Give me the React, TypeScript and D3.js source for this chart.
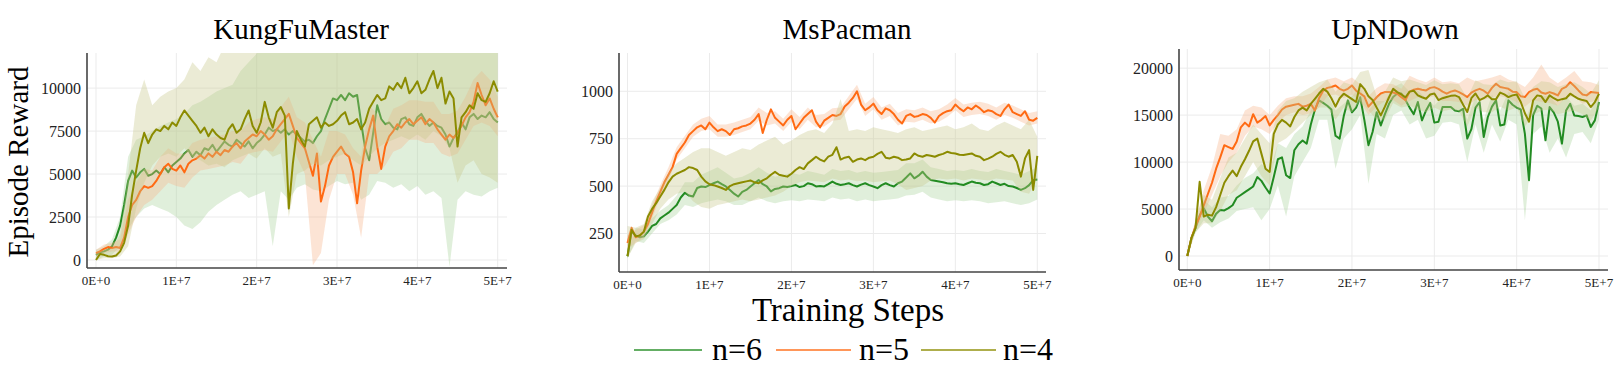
import React from 'react';
import * as d3 from 'd3';

// ---------- shared ----------
const SERIES_NAMES = ['n=6', 'n=5', 'n=4'];
const LINE_COLORS = ['#228b22', '#ff6a13', '#8b8b00'];
const BAND_COLORS = ['#a8d49a', '#f8b48a', '#c8c88a'];
const X_TICKS = [0, 1e7, 2e7, 3e7, 4e7, 5e7];
const X_TICK_LABELS = ['0E+0', '1E+7', '2E+7', '3E+7', '4E+7', '5E+7'];
const LINE_STEPS = d3.range(101).map((i) => i * 5e5);
const BAND_STEPS = d3.range(51).map((i) => i * 1e6);

// ---------- KungFuMaster ----------
const KFM_Y_TICKS = [0, 2500, 5000, 7500, 10000];
const KFM_N6 = [300,450,500,600,800,1300,2000,3200,4600,5200,4800,5100,5300,4900,5000,5200,5000,5400,5100,5500,5700,5900,6200,6400,6000,6300,6100,6500,6400,6700,6300,6600,6900,6700,6600,7000,6800,6600,6900,6500,6800,7000,7300,7700,7500,7600,7400,7600,7300,7500,7300,7100,6900,7000,6800,7200,7500,8200,8800,9400,9300,9600,9300,9700,9500,9600,8000,6500,5800,7400,9000,8200,7900,8000,7700,7600,8200,8300,7900,7800,8300,8500,8100,7800,8000,7800,7700,7300,6600,7100,7400,8000,7600,8300,8500,8200,8400,8300,8600,8200,8000];
const KFM_N5 = [400,500,650,750,700,750,700,1300,2500,3200,3500,4000,4300,4200,4300,4600,5000,5400,5600,5300,5200,5500,5100,5600,5800,5900,6100,5900,6200,6000,6300,6100,6400,6300,6600,6800,6500,6900,7100,7300,7200,7500,7300,7000,7200,7600,7900,8200,8500,7800,7100,6800,6500,5700,4900,6200,3400,4300,5500,6000,6300,6600,6200,6000,5100,3300,5200,6600,7600,8400,6600,5300,6600,7200,7500,7900,7700,8000,8200,7900,8100,8300,7900,8200,8000,7600,7300,7000,7300,7100,7400,7800,8300,8600,9200,10300,9600,9000,9400,8800,8300];
const KFM_N4 = [0,350,300,220,200,260,500,1000,2000,3800,5200,6500,7400,6800,7300,7600,7500,7800,7600,8000,7800,8300,8700,8400,8100,7800,7400,7700,7200,7600,7300,7100,7000,7600,7900,7400,7600,8200,8700,7800,7400,8000,9200,8300,7700,8600,8900,8400,3000,5600,7500,7000,6600,7900,8100,8300,7700,8000,7800,7900,8100,8400,8600,7900,8000,8200,7600,8000,8800,9200,9600,9300,9400,10100,9900,10300,10000,10600,9700,10000,10400,9700,9900,10500,11000,10000,10600,9100,9800,9400,6600,8300,8600,9000,8800,9700,9300,9200,9700,10400,9800];
const KFM_N6_LO = [0,200,300,800,1800,2500,3000,3200,3000,2800,2500,2000,1800,2200,2800,3200,3500,3800,4000,3600,3800,4000,800,4000,3500,4200,4400,4100,4000,4300,4600,4400,4500,3500,3800,4600,4500,4200,4400,4000,4300,3800,4000,3600,-400,3500,4000,3800,3700,4000,4200];
const KFM_N6_HI = [600,800,1200,2500,6000,7000,7200,7500,7800,8000,8200,8500,9000,9200,9500,9800,10000,10200,11000,11500,12000,13000,13000,13000,13000,13000,13000,13000,13000,13000,13000,13000,13000,13000,13000,13000,13000,13000,13000,13000,13000,13000,13000,13000,13000,13000,13000,13000,13000,13000,13000];
const KFM_N5_LO = [200,400,500,500,1500,2500,3200,3500,4000,4500,4300,4200,4800,5200,5300,5400,5500,5700,5600,6200,6300,6400,6300,6900,7500,6000,5000,-300,400,3500,5000,5000,3800,1300,5000,5000,5500,6300,6500,7000,7000,6800,6800,6200,6000,6200,7000,7800,8000,7800,7200];
const KFM_N5_HI = [600,900,1000,1200,3500,4500,5300,5200,6000,6500,6200,6200,6800,7000,7100,7200,7300,7500,7500,8000,8200,8300,8200,8900,9500,8300,8000,7000,6000,7500,7500,7300,6500,6000,9000,8500,7800,8800,9000,9300,9300,9200,9200,8500,8500,8700,9500,10500,11000,10500,9500];
const KFM_N4_LO = [0,100,100,200,800,3000,4500,5500,6000,6200,6000,6500,6000,5800,5500,5600,5400,5800,6000,6200,5900,6500,6000,6200,2500,5000,5200,5600,5500,5800,6000,6200,5800,5500,6000,6500,6800,7000,7200,7000,7300,7000,7500,7200,6500,4500,5500,5800,5000,4800,4500];
const KFM_N4_HI = [500,600,700,1500,5000,9000,10500,9000,9500,9800,10000,10500,11500,11000,11800,11500,12500,13000,13000,13000,13000,13000,13000,13000,13000,13000,13000,13000,13000,13000,13000,13000,13000,13000,13000,13000,13000,13000,13000,13000,13000,13000,13000,13000,13000,13000,13000,13000,13000,13000,13000];

// ---------- MsPacman ----------
const MSP_Y_TICKS = [250, 500, 750, 1000];
const MSP_N6 = [130,260,240,230,235,260,290,300,330,345,360,380,400,440,465,450,445,490,498,495,505,515,524,510,498,480,460,445,470,480,498,515,532,510,498,472,485,489,498,495,500,506,495,500,515,510,498,500,498,510,524,512,506,510,515,505,498,508,515,505,498,489,505,515,505,498,515,524,545,567,541,555,576,550,532,528,524,520,515,512,515,510,506,515,524,518,515,506,510,524,515,506,512,500,498,490,480,489,505,532,535];
const MSP_N5 = [200,280,230,240,260,300,360,420,470,520,560,600,670,700,730,770,790,810,820,800,835,810,790,800,790,770,800,805,815,820,830,850,880,780,850,905,860,840,820,850,870,800,830,860,880,900,840,810,845,860,875,870,880,920,940,965,1000,930,900,915,935,900,880,910,900,880,850,830,870,880,865,870,880,875,860,835,870,885,895,900,930,910,895,915,905,925,910,890,900,895,880,870,905,930,890,880,870,895,850,845,860];
const MSP_N4 = [130,270,235,240,260,340,380,410,445,480,520,550,565,575,585,600,595,585,550,525,510,505,498,490,480,500,510,515,520,525,530,520,515,530,541,560,575,560,555,550,565,585,600,590,620,637,655,640,630,655,665,705,640,650,655,628,640,646,637,650,655,670,681,650,646,655,650,637,640,646,672,660,655,664,660,655,664,670,681,675,672,665,664,668,672,660,655,637,645,655,670,681,665,655,664,628,550,646,690,480,660];
const MSP_N6_LO = [120,210,200,250,300,320,350,400,390,410,420,430,420,400,400,420,440,420,410,420,425,420,430,425,420,440,430,435,420,430,420,425,430,435,450,455,470,440,430,420,425,420,425,420,410,415,420,410,400,410,430];
const MSP_N6_HI = [150,280,270,330,370,400,450,520,520,560,580,600,570,540,550,570,600,570,550,560,570,560,580,570,560,590,580,585,570,580,570,575,580,585,620,620,640,600,590,580,585,580,590,580,575,590,580,570,560,580,600];
const MSP_N5_LO = [170,200,230,330,440,530,640,700,760,790,800,760,760,770,785,800,845,820,830,790,840,800,850,810,815,845,850,905,960,870,905,850,870,820,840,835,850,830,840,865,900,865,875,880,870,850,875,860,840,820,830];
const MSP_N5_HI = [240,270,295,400,505,600,705,765,825,855,870,825,825,835,850,865,915,885,895,855,905,865,915,875,880,910,915,975,1035,935,970,915,935,885,905,900,915,895,905,930,965,930,940,945,935,915,940,925,905,885,895];
const MSP_N4_LO = [120,200,220,300,380,430,460,470,420,390,380,400,410,420,430,420,430,440,450,470,500,520,530,525,520,540,530,535,525,530,520,525,530,510,480,490,500,530,540,535,540,530,540,535,530,540,535,530,470,460,540];
const MSP_N4_HI = [290,280,300,420,490,570,620,650,680,700,700,680,660,680,700,690,720,740,760,720,740,770,790,800,780,830,960,790,800,790,810,800,790,780,800,810,790,800,810,820,800,810,830,800,790,820,840,820,800,850,760];

// ---------- UpNDown ----------
const UND_Y_TICKS = [0, 5000, 10000, 15000, 20000];
const UND_N6 = [0,1900,3000,4300,5100,4200,3700,4500,4900,4850,5100,5400,6200,6500,6800,7100,7400,8400,8000,7300,6660,8400,10300,10500,8600,8300,11260,11900,12300,11960,14000,15600,16570,16300,16000,15600,12800,12500,14900,16570,15300,15800,16900,14500,11800,13200,15300,13900,15100,16200,16920,17300,17300,16600,15800,15100,16390,14440,15500,16300,14200,14300,15860,15860,15860,15500,15400,15680,12500,13500,15800,16390,12670,14800,15900,16570,13900,14000,16570,16100,15800,15600,13000,8070,15000,16000,15700,12320,15860,15300,14300,11960,15500,16210,14970,14900,14800,14970,13740,14440,16390];
const UND_N5 = [0,1900,3200,4200,5400,6600,7800,9300,10500,11800,11600,11400,12200,13700,14200,13800,15100,14200,14500,14900,13900,14500,15000,15600,15900,16000,16100,16200,15900,16000,16200,15500,16800,17600,17900,18000,18150,17800,17600,17800,18150,17600,17300,17000,15900,16400,16900,17300,17450,17450,17400,17280,16900,16600,17500,17700,17800,17700,17630,17900,17980,17800,17500,17280,17500,17630,17450,17200,16920,17400,17630,17800,17600,17280,17900,18340,18000,17900,17800,17500,17450,17000,16920,17450,17700,17800,17400,17280,17450,17300,17100,17800,18000,18500,18100,17630,17200,17100,17450,17400,17350];
const UND_N4 = [0,1900,3000,7900,4200,4400,4300,5200,6500,7800,8500,9100,8500,9500,10300,11200,12200,12500,10900,9300,8950,13000,14000,14500,14200,13800,14800,15500,15800,15500,16200,16740,17300,17800,17500,16800,15900,16800,17280,17000,16700,16400,18300,17800,17000,16600,15800,14970,15900,16900,17800,17450,17200,16900,17500,17600,17100,16900,16740,17200,17300,16600,16800,16920,17050,17100,16920,16100,15330,16800,17300,16600,16800,17100,16700,16700,17400,17200,16920,17100,17200,16400,15200,14300,16570,17100,17000,16390,17100,16800,16570,16700,16800,17280,17000,16740,16600,16500,15860,16390,17280];
const UND_N6_LO = [0,2500,3800,3000,3600,4000,4800,5000,5200,3800,5000,7500,4200,8500,10000,11500,14500,14500,9300,12500,13500,15000,7700,13000,12500,15000,15500,14000,14500,12500,12800,14200,14300,14000,10000,14000,11000,14000,12200,14500,14000,3800,13000,13800,11000,12500,10500,13000,13200,12000,14500];
const UND_N6_HI = [0,3500,6000,5200,6200,6400,7500,8300,8800,9800,9000,12000,11500,13000,13800,15500,17500,17200,15500,16200,17000,18000,15500,16500,16500,18000,18400,17500,17600,16800,16000,17000,17000,16800,14500,17000,14500,17200,15500,17500,17000,14500,16500,17000,17000,16000,17000,16000,16200,15500,17500];
const UND_N5_LO = [0,2800,4500,6500,8500,10000,11000,12800,13800,13500,13000,14200,15000,15300,15000,15200,15800,17000,17200,16800,17200,16400,15000,15900,16500,16600,16000,16500,16900,16800,17000,16500,16500,16400,16000,16600,16600,16900,17000,16800,16400,15900,16600,16400,16300,16000,16900,17000,16200,16400,16500];
const UND_N5_HI = [0,3800,7000,9500,13000,12800,13500,15500,16000,15800,15000,16000,16800,17000,17000,17300,18000,18800,19000,18600,19000,18300,17000,17900,18400,18300,17800,19200,18800,18500,19000,18500,18600,18400,19000,18600,18800,19000,19300,18800,18500,18000,19000,20400,19000,18400,19000,19700,18600,18500,18200];
const UND_N4_LO = [0,2500,3500,3500,4800,6500,7000,8500,10000,8500,7500,12000,12500,13300,14200,15000,15800,15800,14500,15800,15300,16500,15500,14500,14500,16300,15800,16000,15600,15300,15800,15400,15600,15400,13800,15800,15300,15300,15900,15500,15800,13800,15000,15500,15600,15100,15300,15500,15100,14400,15800];
const UND_N4_HI = [0,4000,6500,6000,8300,10500,11000,12500,14000,13000,12000,15500,16500,16800,17500,18000,18500,18800,17500,18500,18200,19600,19800,17000,17500,19000,18600,18800,18500,18200,18700,18300,18400,18300,16800,18700,18300,18200,18800,18500,18600,16800,18000,18600,18500,18000,18300,18500,18000,17300,18700];

// ---------- layout ----------
const PANELS = [
  {
    title: 'KungFuMaster', titleX: 301,
    left: 87, right: 507, top: 53, bottom: 268, x0: 96, x1: 497.7,
    yDomain: [-466, 12043], yTicks: KFM_Y_TICKS,
    lines: [KFM_N6, KFM_N5, KFM_N4],
    lows: [KFM_N6_LO, KFM_N5_LO, KFM_N4_LO],
    highs: [KFM_N6_HI, KFM_N5_HI, KFM_N4_HI],
  },
  {
    title: 'MsPacman', titleX: 847,
    left: 619, right: 1046, top: 53, bottom: 272, x0: 627.5, x1: 1037.3,
    yDomain: [47, 1202], yTicks: MSP_Y_TICKS,
    lines: [MSP_N6, MSP_N5, MSP_N4],
    lows: [MSP_N6_LO, MSP_N5_LO, MSP_N4_LO],
    highs: [MSP_N6_HI, MSP_N5_HI, MSP_N4_HI],
  },
  {
    title: 'UpNDown', titleX: 1395,
    left: 1179, right: 1608, top: 49, bottom: 270, x0: 1187.3, x1: 1599,
    yDomain: [-1490, 22040], yTicks: UND_Y_TICKS,
    lines: [UND_N6, UND_N5, UND_N4],
    lows: [UND_N6_LO, UND_N5_LO, UND_N4_LO],
    highs: [UND_N6_HI, UND_N5_HI, UND_N4_HI],
  },
];

const FONT = '"Liberation Serif", "Times New Roman", serif';

function Panel({ p, idx }: { p: any; idx: number }) {
  const x = d3.scaleLinear().domain([0, 5e7]).range([p.x0, p.x1]);
  const y = d3.scaleLinear().domain(p.yDomain).range([p.bottom, p.top]);
  const line = d3.line<number>().x((_, i) => x(LINE_STEPS[i])).y((d) => y(d));
  const clipId = `clip-${idx}`;
  return (
    <g>
      <defs>
        <clipPath id={clipId}>
          <rect x={p.left} y={p.top} width={p.right - p.left} height={p.bottom - p.top} />
        </clipPath>
      </defs>
      {p.yTicks.map((t: number) => (
        <line key={'gy' + t} x1={p.left} x2={p.right} y1={y(t)} y2={y(t)} stroke="#ebebeb" strokeWidth={1} />
      ))}
      {X_TICKS.map((t) => (
        <line key={'gx' + t} x1={x(t)} x2={x(t)} y1={p.top} y2={p.bottom} stroke="#ebebeb" strokeWidth={1} />
      ))}
      <g clipPath={`url(#${clipId})`}>
        {p.lines.map((vals: number[], s: number) => {
          const area = d3
            .area<number>()
            .x((_, i) => x(BAND_STEPS[i]))
            .y0((d) => y(d))
            .y1((_, i) => y(p.highs[s][i]));
          return (
            <g key={s}>
              <path d={area(p.lows[s]) || ''} fill={BAND_COLORS[s]} fillOpacity={0.36} stroke="none" />
              <path d={line(vals) || ''} fill="none" stroke={LINE_COLORS[s]} strokeWidth={2} strokeLinejoin="round" />
            </g>
          );
        })}
      </g>
      <line x1={p.left} x2={p.left} y1={p.top} y2={p.bottom} stroke="#444" strokeWidth={1.6} />
      <line x1={p.left} x2={p.right} y1={p.bottom} y2={p.bottom} stroke="#444" strokeWidth={1.6} />
      {p.yTicks.map((t: number) => (
        <text key={'ty' + t} x={p.left - 6} y={y(t)} dy="0.35em" textAnchor="end" fontSize={16} fontFamily={FONT} fill="#222">
          {t}
        </text>
      ))}
      {X_TICKS.map((t, i) => (
        <text key={'tx' + t} x={x(t)} y={p.bottom + 16.5} textAnchor="middle" fontSize={13} fontFamily={FONT} fill="#222">
          {X_TICK_LABELS[i]}
        </text>
      ))}
      <text x={p.titleX} y={39} textAnchor="middle" fontSize={29} fontFamily={FONT} fill="#000">
        {p.title}
      </text>
    </g>
  );
}

const LEGEND_ITEMS = [
  { x1: 634, x2: 702, tx: 712 },
  { x1: 776, x2: 851, tx: 859 },
  { x1: 921, x2: 996, tx: 1003 },
];

export default function App() {
  return (
    <div style={{ position: 'absolute', left: 0, top: 0 }}>
      <svg width={1622} height={368} style={{ display: 'block', background: '#fff' }}>
        {PANELS.map((p, i) => (
          <Panel key={i} p={p} idx={i} />
        ))}
        <text transform="translate(28,162) rotate(-90)" textAnchor="middle" fontSize={29} fontFamily={FONT} fill="#000">
          Episode Reward
        </text>
        <text x={848} y={321} textAnchor="middle" fontSize={33} fontFamily={FONT} fill="#000">
          Training Steps
        </text>
        {SERIES_NAMES.map((name, i) => (
          <g key={name}>
            <line x1={LEGEND_ITEMS[i].x1} x2={LEGEND_ITEMS[i].x2} y1={350} y2={350} stroke={LINE_COLORS[i]} strokeOpacity={0.7} strokeWidth={2} />
            <text x={LEGEND_ITEMS[i].tx} y={360} fontSize={32} fontFamily={FONT} fill="#000">
              {name}
            </text>
          </g>
        ))}
      </svg>
    </div>
  );
}
